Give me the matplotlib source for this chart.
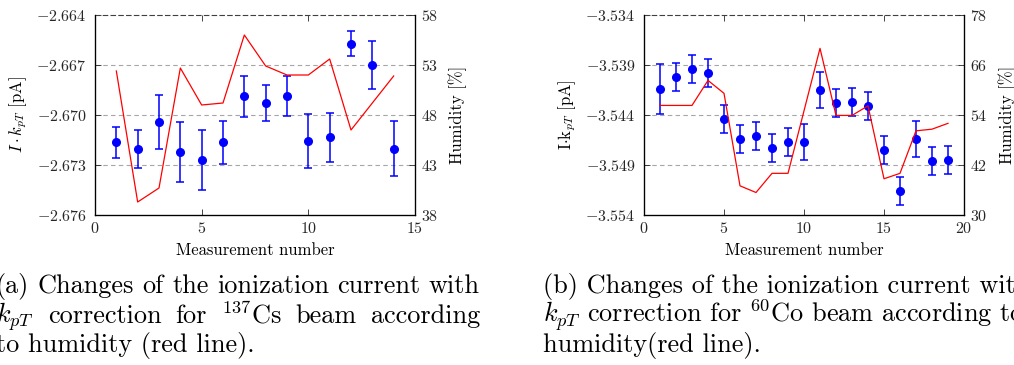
import matplotlib
matplotlib.use('Agg')
import matplotlib.pyplot as plt
from matplotlib.ticker import FixedLocator, FixedFormatter

plt.rcParams['font.family'] = 'serif'
plt.rcParams['font.serif'] = ['cmr10']
plt.rcParams['mathtext.fontset'] = 'cm'
plt.rcParams['axes.unicode_minus'] = False

# (a) 137Cs
cs_n = list(range(1, 15))
cs_current = [-2.67164, -2.67202, -2.67044, -2.67222, -2.67270, -2.67164, -2.66888,
              -2.66928, -2.66886, -2.67158, -2.67134, -2.66572, -2.66700, -2.67202]
cs_err = [0.00094, 0.00114, 0.00162, 0.00180, 0.00180, 0.00130, 0.00122,
          0.00108, 0.00120, 0.00162, 0.00148, 0.00073, 0.00145, 0.00164]
cs_humidity = [52.4, 39.3, 40.7, 52.7, 49.0, 49.2, 56.0, 52.9, 52.0, 52.0, 53.6, 46.5, 49.2, 51.9]
cs_yticks = [-2.676, -2.673, -2.670, -2.667, -2.664]
cs_hticks = [38, 43, 48, 53, 58]
cs_xticks = [0, 5, 10, 15]

# (b) 60Co
co_n = list(range(1, 20))
co_current = [-3.54143, -3.54023, -3.53940, -3.53980, -3.54440, -3.54640, -3.54613,
              -3.54733, -3.54673, -3.54673, -3.54153, -3.54283, -3.54273, -3.54313,
              -3.54753, -3.55160, -3.54643, -3.54860, -3.54853]
co_err = [0.0025, 0.0014, 0.0014, 0.0014, 0.0014, 0.0014, 0.0014,
          0.0014, 0.0014, 0.0018, 0.0018, 0.0014, 0.0014, 0.0014,
          0.0014, 0.0014, 0.0018, 0.0014, 0.0014]
co_humidity = [56.3, 56.3, 56.3, 62.3, 59.2, 37.0, 35.4, 40.0, 40.0, 55.0,
               70.0, 53.9, 53.9, 56.2, 38.7, 40.0, 50.2, 50.6, 52.0]
co_yticks = [-3.554, -3.549, -3.544, -3.539, -3.534]
co_hticks = [30, 42, 54, 66, 78]
co_xticks = [0, 5, 10, 15, 20]

caption_a = [r'(a) Changes of the ionization current with',
             r'$k_{pT}$ correction for $^{137}\mathrm{Cs}$ beam according',
             r'to humidity (red line).']
caption_b = [r'(b) Changes of the ionization current with',
             r'$k_{pT}$ correction for $^{60}\mathrm{Co}$ beam according to',
             r'humidity(red line).']

CAP_SIZE = 18.9


def draw_panel(fig, rect, n, cur, err, hum, yticks, hticks, xticks, ylabel):
    ax = fig.add_axes(rect)
    ax.errorbar(n, cur, yerr=err, fmt='o', color='blue', ms=5.5, elinewidth=1.1,
                capsize=3, capthick=1.1, zorder=3)
    ax.set_xlim(xticks[0], xticks[-1])
    ax.set_ylim(yticks[0], yticks[-1])
    ax.yaxis.set_major_locator(FixedLocator(yticks))
    ax.yaxis.set_major_formatter(FixedFormatter(['$%.3f$' % v for v in yticks]))
    ax.xaxis.set_major_locator(FixedLocator(xticks))
    ax.xaxis.set_major_formatter(FixedFormatter(['$%d$' % v for v in xticks]))
    ax.tick_params(direction='in', length=4, width=0.6, labelsize=11.5, top=True,
                   colors='0.15', pad=6)
    ax.tick_params(axis='x', pad=4)
    ax.yaxis.grid(True, color='0.65', linestyle=(0, (4, 3)), linewidth=0.8)
    gl = ax.get_ygridlines()
    gl[0].set_visible(False)
    gl[-1].set_visible(False)
    ax.spines['top'].set_linestyle((0, (4, 3)))
    ax.spines['top'].set_color('0.25')
    for s in ['left', 'right', 'bottom']:
        ax.spines[s].set_linewidth(0.9)
    ax.set_xlabel('Measurement number', fontsize=12, labelpad=5)
    ax.set_ylabel(ylabel, fontsize=12, labelpad=5)

    ax2 = ax.twinx()
    ax2.plot(n, hum, color='red', lw=0.9)
    ax2.set_ylim(hticks[0], hticks[-1])
    ax2.yaxis.set_major_locator(FixedLocator(hticks))
    ax2.yaxis.set_major_formatter(FixedFormatter(['$%d$' % v for v in hticks]))
    ax2.tick_params(direction='in', length=4, width=0.6, labelsize=11.5,
                    colors='0.15', pad=4)
    ax2.spines['top'].set_visible(False)
    ax2.set_ylabel('Humidity [%]', fontsize=12, labelpad=8)
    return ax


def put_caption(fig, x, baselines, lines, width, justify):
    r = fig.canvas.get_renderer()
    W = fig.bbox.width
    H = fig.bbox.height
    for i, (yb, line) in enumerate(zip(baselines, lines)):
        if not justify[i]:
            fig.text(x / W, 1 - yb / H, line, fontsize=CAP_SIZE, va='baseline')
            continue
        words = line.split(' ')
        items = [fig.text(0, 0, w, fontsize=CAP_SIZE, va='baseline') for w in words]
        widths = [t.get_window_extent(r).width for t in items]
        gap = (width - sum(widths)) / (len(items) - 1)
        px = x
        for t, w in zip(items, widths):
            t.set_position((px / W, 1 - yb / H))
            px += w + gap


fig = plt.figure(figsize=(10.14, 3.65), dpi=100)
W, H = 1014, 365
draw_panel(fig, [95 / W, 1 - 215 / H, 320 / W, 200 / H], cs_n, cs_current, cs_err,
           cs_humidity, cs_yticks, cs_hticks, cs_xticks, r'$I\cdot k_{pT}$ [pA]')
draw_panel(fig, [644 / W, 1 - 215 / H, 320 / W, 200 / H], co_n, co_current, co_err,
           co_humidity, co_yticks, co_hticks, co_xticks, r'I$\cdot$k$_{pT}$ [pA]')

fig.canvas.draw()
put_caption(fig, -4, [293, 323, 352], caption_a, 484, [True, True, False])
put_caption(fig, 543, [293, 323, 352], caption_b, 484, [False, False, False])

fig.savefig('out.png', dpi=100)
